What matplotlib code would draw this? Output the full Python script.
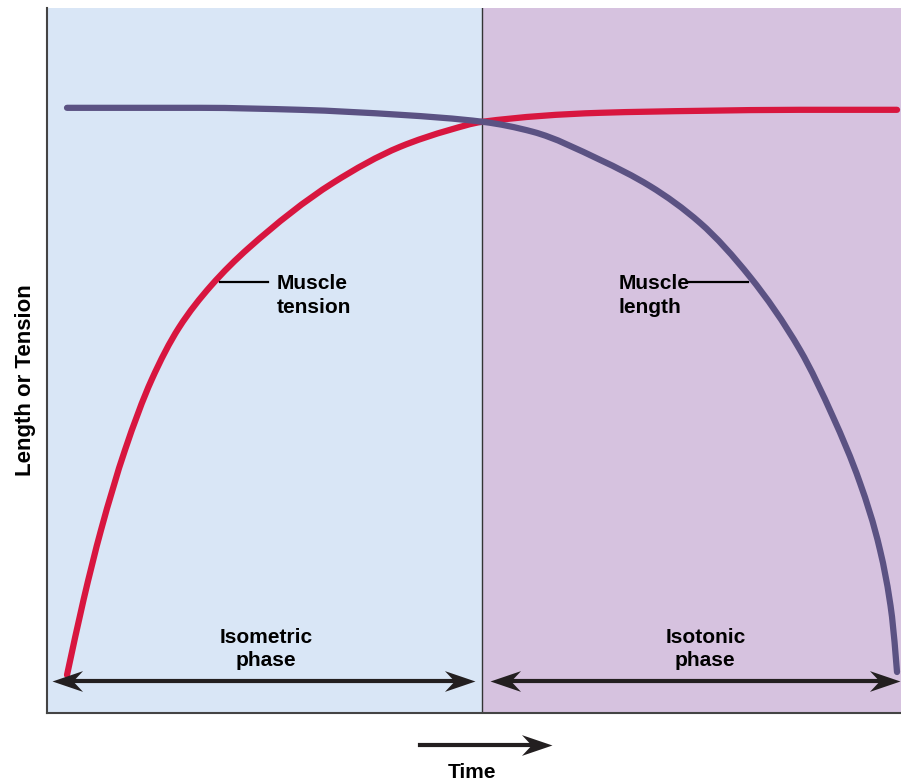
import matplotlib
matplotlib.use("Agg")
import matplotlib.pyplot as plt
from matplotlib.lines import Line2D
from matplotlib.path import Path
from matplotlib.patches import PathPatch

plt.rcParams['font.family'] = ['Liberation Sans', 'DejaVu Sans']

# ---- data (time units 0..10, level 0..100) ----
tension_t = [0.0, 0.199, 0.410, 0.699, 1.019, 1.347, 1.733, 2.190, 3.205, 4.012, 4.614, 5.0, 6.422, 7.627, 8.831, 10.0]
tension_v = [0.0, 13.23, 25.57, 39.68, 52.03, 61.2, 68.6, 75.3, 86.77, 93.12, 96.12, 97.53, 99.12, 99.47, 99.65, 99.65]

length_t = [0.0, 1.602, 2.807, 4.012, 5.012, 5.614, 6.422, 7.024, 7.627, 8.229, 8.831, 9.229, 9.554, 9.795, 9.940, 10.0]
length_v = [100.0, 100.0, 99.65, 98.77, 97.53, 95.77, 90.83, 86.2, 79.72, 70.19, 57.32, 45.50, 33.86, 22.05, 10.23, 0.53]

phase_boundary = 5.0
phase_names = ["Isometric\nphase", "Isotonic\nphase"]
curve_names = ["Muscle\ntension", "Muscle\nlength"]
x_label = "Time"
y_label = "Length or Tension"

# ---- styling ----
RED = "#d8163f"
PURPLE = "#5b5283"
BLUE_BG = "#d9e6f6"
PURP_BG = "#d6c2df"
INK = "#231f20"


def smooth_path(xs, ys):
    """Monotone cubic (Fritsch-Carlson) curve through the points, as Bezier segments."""
    n = len(xs)
    h = [xs[i + 1] - xs[i] for i in range(n - 1)]
    d = [(ys[i + 1] - ys[i]) / h[i] for i in range(n - 1)]
    m = [0.0] * n
    m[0] = d[0]
    m[-1] = d[-1]
    for i in range(1, n - 1):
        if d[i - 1] * d[i] <= 0:
            m[i] = 0.0
        else:
            w1 = 2 * h[i] + h[i - 1]
            w2 = h[i] + 2 * h[i - 1]
            m[i] = (w1 + w2) / (w1 / d[i - 1] + w2 / d[i])
    verts = [(xs[0], ys[0])]
    codes = [Path.MOVETO]
    for i in range(n - 1):
        c1 = (xs[i] + h[i] / 3, ys[i] + m[i] * h[i] / 3)
        c2 = (xs[i + 1] - h[i] / 3, ys[i + 1] - m[i + 1] * h[i] / 3)
        verts += [c1, c2, (xs[i + 1], ys[i + 1])]
        codes += [Path.CURVE4] * 3
    return Path(verts, codes)


W, H = 901, 781
fig = plt.figure(figsize=(W / 100, H / 100), dpi=100)
ax = fig.add_axes([47 / W, 1 - 713 / H, 1 - 47 / W, (713 - 8) / H])

xmin, xmax = -0.241, 10.048
ymin, ymax = -6.70, 117.6
ax.set_xlim(xmin, xmax)
ax.set_ylim(ymin, ymax)

ax.axvspan(xmin, phase_boundary, color=BLUE_BG, lw=0, zorder=0)
ax.axvspan(phase_boundary, xmax, color=PURP_BG, lw=0, zorder=0)
ax.axvline(phase_boundary, color="#333333", lw=1.0, zorder=1)

ax.add_patch(PathPatch(smooth_path(tension_t, tension_v), fill=False, edgecolor=RED,
                       lw=4.5, capstyle='round', joinstyle='round', zorder=3))
ax.add_patch(PathPatch(smooth_path(length_t, length_v), fill=False, edgecolor=PURPLE,
                       lw=4.5, capstyle='round', joinstyle='round', zorder=4))

# stealth-like arrowhead markers (tip at origin)
head_r = [(0, 0), (-1, 0.34), (-0.68, 0), (-1, -0.34), (0, 0)]
head_l = [(-x, y) for x, y in head_r]
MS = 44

arrow_y = -1.06
phase_spans = [(-0.18, 4.92), (5.10, 10.03)]
for (a, b) in phase_spans:
    ax.plot([a + 0.2, b - 0.2], [arrow_y, arrow_y], color=INK, lw=3.0, zorder=5,
            solid_capstyle='butt')
    ax.plot([b], [arrow_y], marker=head_r, ms=MS, color=INK, mec=INK, mew=0, zorder=6)
    ax.plot([a], [arrow_y], marker=head_l, ms=MS, color=INK, mec=INK, mew=0, zorder=6)

fs = 15
LS = 1.3
ax.text(2.40, 4.6, phase_names[0], ha='center', va='center', fontsize=fs,
        fontweight='bold', linespacing=LS, zorder=7)
ax.text(7.69, 4.6, phase_names[1], ha='center', va='center', fontsize=fs,
        fontweight='bold', linespacing=LS, zorder=7)

# leader labels
ax.plot([1.843, 2.42], [69.3, 69.3], color='black', lw=1.6, zorder=5)
ax.text(2.53, 66.9, curve_names[0], ha='left', va='center', fontsize=fs,
        fontweight='bold', linespacing=LS, zorder=7)
ax.plot([7.48, 8.20], [69.3, 69.3], color='black', lw=1.6, zorder=5)
ax.text(6.65, 66.9, curve_names[1], ha='left', va='center', fontsize=fs,
        fontweight='bold', linespacing=LS, zorder=7)

# axes styling
for s in ['top', 'right']:
    ax.spines[s].set_visible(False)
for s in ['left', 'bottom']:
    ax.spines[s].set_color('#444444')
    ax.spines[s].set_linewidth(1.5)
ax.set_xticks([])
ax.set_yticks([])

# Time arrow (figure coords)
ty = 1 - 745 / H
fig.add_artist(Line2D([420 / W, 535 / W], [ty, ty], transform=fig.transFigure,
                      color=INK, lw=3.0))
fig.add_artist(Line2D([552 / W], [ty], transform=fig.transFigure, marker=head_r,
                      ms=MS, color=INK, mew=0, linestyle='none'))
fig.text(472 / W, 1 - 772 / H, x_label, ha='center', va='center', fontsize=fs,
         fontweight='bold')
fig.text(26 / W, 1 - 380 / H, y_label, ha='center', va='center', rotation=90,
         fontsize=16, fontweight='bold')

fig.savefig("out.png", dpi=100)
